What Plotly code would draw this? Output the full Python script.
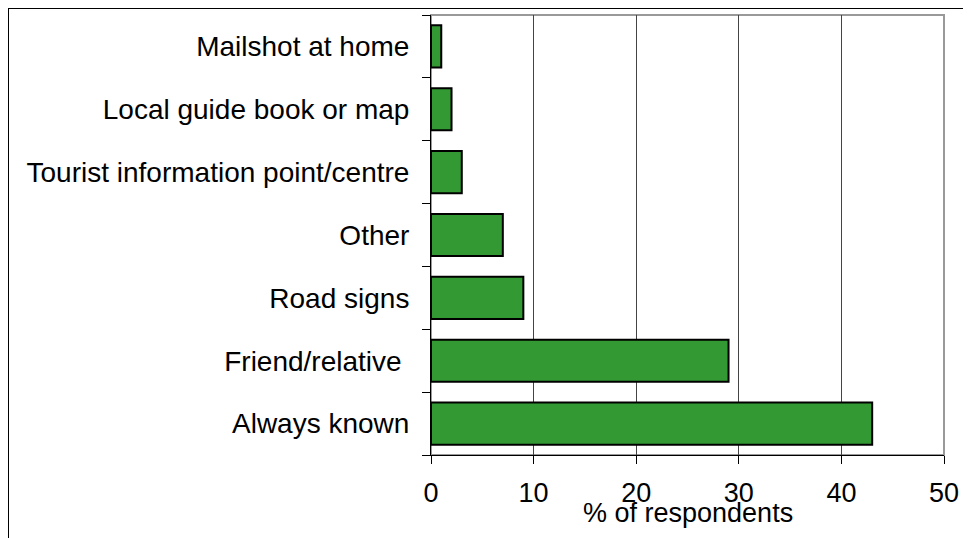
import plotly.graph_objects as go

categories = ["Always known", "Friend/relative ", "Road signs", "Other",
              "Tourist information point/centre", "Local guide book or map",
              "Mailshot at home"]
values = [43, 29, 9, 7, 3, 2, 1]
x_ticks = [0, 10, 20, 30, 40, 50]

FONT = "Liberation Sans, Arial, sans-serif"

fig = go.Figure(go.Bar(
    y=categories, x=values, orientation="h",
    marker=dict(color="#339933", line=dict(color="black", width=2)),
))

# page is offset by the 8px body margin
W, H = 963, 530
L, R, T, B = 423, 936, 7, 447
pw, ph = R - L, B - T

fig.update_layout(
    width=W, height=H,
    margin=dict(l=L, r=W - R, t=T, b=H - B, pad=0),
    plot_bgcolor="white", paper_bgcolor="white",
    bargap=0.33, showlegend=False,
    font=dict(family=FONT, size=28, color="black"),
    xaxis=dict(range=[0, 50], tickvals=x_ticks, showgrid=True,
               gridcolor="#444", gridwidth=1, zeroline=False,
               showline=True, linecolor="black", linewidth=1,
               ticks="outside", ticklen=8, tickcolor="black",
               tickfont=dict(size=27), ticklabelstandoff=6),
    yaxis=dict(type="category", categoryorder="array", categoryarray=categories,
               showgrid=False, showline=True, linecolor="black", linewidth=1,
               ticks="outside", tickson="boundaries", ticklen=8, tickcolor="black",
               tickfont=dict(size=28), ticklabelstandoff=15),
    shapes=[
        dict(type="rect", xref="paper", yref="paper", x0=0, x1=1, y0=0, y1=1,
             line=dict(color="#999", width=2), layer="below"),
        dict(type="line", xref="paper", yref="paper",
             x0=(0 - L) / pw, x1=(0 - L) / pw, y0=1 + T / ph, y1=-(H - B + 5) / ph,
             line=dict(color="black", width=2)),
        dict(type="line", xref="paper", yref="paper",
             x0=(0 - L) / pw, x1=(W + 5 - L) / pw, y0=1 + T / ph, y1=1 + T / ph,
             line=dict(color="black", width=2)),
    ],
    annotations=[dict(text="% of respondents", xref="paper", yref="paper",
                      x=0.5, y=-(513 - 8 - B) / ph, xanchor="center", yanchor="middle",
                      showarrow=False, font=dict(size=27))],
)

fig.write_html("out.html")
